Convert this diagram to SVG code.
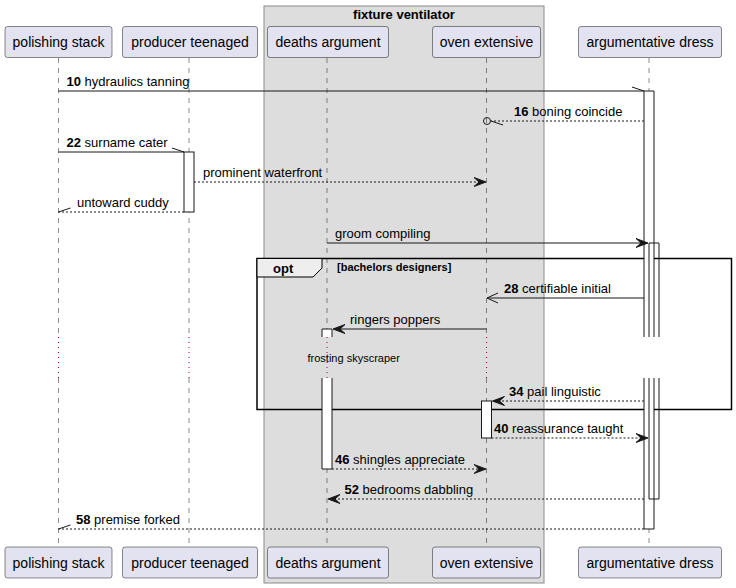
<svg xmlns="http://www.w3.org/2000/svg" width="736" height="588" viewBox="0 0 736 588">
  <style>
    text { font-family: "Liberation Sans", Arial, sans-serif; fill: #000; }
    .pname { font-size: 14px; text-anchor: middle; }
    .msg { font-size: 13px; }
    .num { font-weight: bold; }
    .pbox { fill: #E2E2F0; stroke: #181818; stroke-width: 0.5; }
    .life { stroke: #181818; stroke-width: 0.5; stroke-dasharray: 5,5; fill: none; }
    .delay { stroke: #A80036; stroke-width: 1; stroke-dasharray: 1,4; fill: none; }
    .act { fill: #FFFFFF; stroke: #181818; stroke-width: 1; }
    .actline { fill: none; stroke: #181818; stroke-width: 1; }
    .solid { stroke: #181818; stroke-width: 1; fill: none; }
    .dashed { stroke: #181818; stroke-width: 1; stroke-dasharray: 2,2; fill: none; }
    .head { fill: #181818; stroke: #181818; stroke-width: 1; }
    .grp { font-size: 13px; font-weight: bold; text-anchor: middle; }
  </style>
  <rect x="0" y="0" width="736" height="588" fill="#FFFFFF"/>

  <!-- box grouping two participants -->
  <g id="box-fixture-ventilator">
    <rect x="264" y="6" width="280" height="577" fill="#DDDDDD" stroke="#8c8c8c" stroke-width="1"/>
    <text class="grp" x="404" y="19">fixture ventilator</text>
  </g>

  <!-- lifelines, broken by the delay -->
  <g id="lifelines">
    <path class="life" d="M58.5,58 V337 M58.5,378 V547"/>
    <path class="life" d="M189,58 V337 M189,378 V547"/>
    <path class="life" d="M327,58 V337 M327,378 V547"/>
    <path class="life" d="M486.5,58 V337 M486.5,378 V547"/>
    <path class="life" d="M649,58 V337 M649,378 V547"/>
    <path class="delay" d="M58.5,337 V378 M189,337 V378 M327,337 V378 M486.5,337 V378 M649,337 V378"/>
  </g>

  <!-- opt fragment -->
  <g id="fragment-opt">
    <rect x="257" y="258.5" width="474.5" height="151" fill="none" stroke="#000000" stroke-width="1.5"/>
    <path d="M257,258.5 H322 V268 L313,277 H257 Z" fill="#EEEEEE" stroke="#000000" stroke-width="1"/>
    <text x="273" y="273" style="font-size:13px;font-weight:bold">opt</text>
    <text x="337" y="271" style="font-size:11px;font-weight:bold">[bachelors designers]</text>
  </g>

  <!-- activation bars -->
  <g id="activations">
    <rect class="act" x="184" y="152" width="10" height="60"/>
    <!-- argumentative dress, outer -->
    <rect x="644" y="91" width="10" height="438" fill="#FFFFFF"/>
    <path class="actline" d="M644,337 V91 H654 V337 M644,378 V529 H654 V378"/>
    <!-- argumentative dress, nested -->
    <path class="actline" d="M649,337 V243 H659 V337 M649,378 V499 H659 V378"/>
    <!-- deaths argument -->
    <rect x="322" y="329" width="10" height="8" fill="#FFFFFF"/>
    <rect x="322" y="378" width="10" height="91" fill="#FFFFFF"/>
    <path class="actline" d="M322,337 V329 H332 V337 M322,378 V469 H332 V378"/>
    <!-- oven extensive -->
    <rect class="act" x="481.5" y="401" width="10" height="37"/>
  </g>

  <!-- messages -->
  <g id="connectors">
    <line class="solid" x1="58.5" y1="91" x2="644" y2="91"/>
    <line class="solid" x1="644" y1="91" x2="632" y2="87"/>

    <line class="dashed" x1="644" y1="121" x2="491" y2="121"/>
    <circle cx="487" cy="121" r="3.5" fill="none" stroke="#181818" stroke-width="1"/>
    <line class="solid" x1="491" y1="121" x2="503" y2="125"/>

    <line class="solid" x1="58.5" y1="152" x2="184" y2="152"/>
    <line class="solid" x1="184" y1="152" x2="172" y2="148"/>

    <line class="dashed" x1="194" y1="182" x2="485" y2="182"/>
    <polygon class="head" points="486,182 474,177.5 479,182 474,186.5"/>

    <line class="dashed" x1="184" y1="212" x2="58.5" y2="212"/>
    <line class="solid" x1="58.5" y1="212" x2="70.5" y2="208"/>

    <line class="solid" x1="327" y1="243" x2="647" y2="243"/>
    <polygon class="head" points="648,243 636,238.5 641,243 636,247.5"/>

    <line class="solid" x1="644" y1="298" x2="487" y2="298"/>
    <polyline class="solid" points="498,293 487,298 498,303"/>

    <line class="solid" x1="486.5" y1="329" x2="334" y2="329"/>
    <polygon class="head" points="333,329 345,324.5 340,329 345,333.5"/>

    <line class="dashed" x1="644" y1="401" x2="493" y2="401"/>
    <polygon class="head" points="492.5,401 504.5,396.5 499.5,401 504.5,405.5"/>

    <line class="dashed" x1="491.5" y1="438" x2="647" y2="438"/>
    <polygon class="head" points="648,438 636,433.5 641,438 636,442.5"/>

    <line class="dashed" x1="332" y1="469" x2="485" y2="469"/>
    <polygon class="head" points="486,469 474,464.5 479,469 474,473.5"/>

    <line class="dashed" x1="644" y1="499" x2="329" y2="499"/>
    <polygon class="head" points="328,499 340,494.5 335,499 340,503.5"/>

    <line class="dashed" x1="644" y1="529" x2="58.5" y2="529"/>
    <line class="solid" x1="58.5" y1="529" x2="70.5" y2="525"/>
  </g>

  <!-- message labels -->
  <g id="labels">
    <text class="msg" x="66.5" y="86"><tspan class="num">10</tspan> hydraulics tanning</text>
    <text class="msg" x="514" y="116"><tspan class="num">16</tspan> boning coincide</text>
    <text class="msg" x="66.5" y="147"><tspan class="num">22</tspan> surname cater</text>
    <text class="msg" x="203" y="177">prominent waterfront</text>
    <text class="msg" x="77" y="207">untoward cuddy</text>
    <text class="msg" x="335" y="238">groom compiling</text>
    <text class="msg" x="504" y="293"><tspan class="num">28</tspan> certifiable initial</text>
    <text class="msg" x="350" y="324">ringers poppers</text>
    <text x="307.5" y="362" style="font-size:11px">frosting skyscraper</text>
    <text class="msg" x="509" y="396"><tspan class="num">34</tspan> pail linguistic</text>
    <text class="msg" x="494" y="433"><tspan class="num">40</tspan> reassurance taught</text>
    <text class="msg" x="335" y="464"><tspan class="num">46</tspan> shingles appreciate</text>
    <text class="msg" x="344.5" y="494"><tspan class="num">52</tspan> bedrooms dabbling</text>
    <text class="msg" x="76" y="524"><tspan class="num">58</tspan> premise forked</text>
  </g>

  <!-- participants -->
  <g id="polishing-stack">
    <rect class="pbox" x="5" y="26.5" width="107" height="31" rx="2.5"/>
    <text class="pname" x="58.5" y="47">polishing stack</text>
    <rect class="pbox" x="5" y="547" width="107" height="31" rx="2.5"/>
    <text class="pname" x="58.5" y="567.5">polishing stack</text>
  </g>
  <g id="producer-teenaged">
    <rect class="pbox" x="122.5" y="26.5" width="135" height="31" rx="2.5"/>
    <text class="pname" x="190" y="47">producer teenaged</text>
    <rect class="pbox" x="122.5" y="547" width="135" height="31" rx="2.5"/>
    <text class="pname" x="190" y="567.5">producer teenaged</text>
  </g>
  <g id="deaths-argument">
    <rect class="pbox" x="267.5" y="26.5" width="121" height="31" rx="2.5"/>
    <text class="pname" x="328" y="47">deaths argument</text>
    <rect class="pbox" x="267.5" y="547" width="121" height="31" rx="2.5"/>
    <text class="pname" x="328" y="567.5">deaths argument</text>
  </g>
  <g id="oven-extensive">
    <rect class="pbox" x="432.5" y="26.5" width="108" height="31" rx="2.5"/>
    <text class="pname" x="486.5" y="47">oven extensive</text>
    <rect class="pbox" x="432.5" y="547" width="108" height="31" rx="2.5"/>
    <text class="pname" x="486.5" y="567.5">oven extensive</text>
  </g>
  <g id="argumentative-dress">
    <rect class="pbox" x="578.5" y="26.5" width="143" height="31" rx="2.5"/>
    <text class="pname" x="650" y="47">argumentative dress</text>
    <rect class="pbox" x="578.5" y="547" width="143" height="31" rx="2.5"/>
    <text class="pname" x="650" y="567.5">argumentative dress</text>
  </g>
</svg>
